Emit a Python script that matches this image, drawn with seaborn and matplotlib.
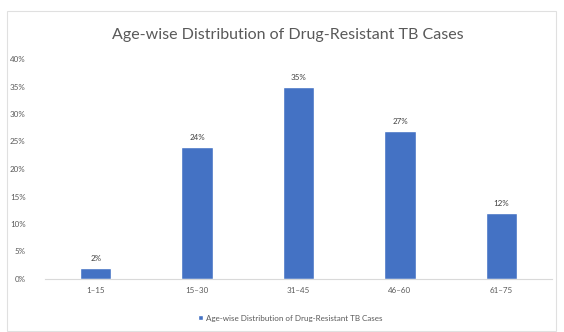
import matplotlib
matplotlib.use("Agg")
import matplotlib.pyplot as plt
import seaborn as sns
import pandas as pd
from matplotlib.patches import Rectangle
from matplotlib.ticker import FuncFormatter

categories = ["1–15", "15–30", "31–45", "46–60", "61–75"]
values = [2, 24, 35, 27, 12]
series_name = "Age-wise Distribution of Drug-Resistant TB Cases"
title = "Age-wise Distribution of Drug-Resistant TB Cases"

sns.set_theme(style="white")
plt.rcParams['font.family'] = ['Lato', 'DejaVu Sans']

df = pd.DataFrame({"Age": categories, "Pct": values, "Series": series_name})

fig = plt.figure(figsize=(5.64, 3.32), dpi=100)
fig.patch.set_facecolor("white")
ax = fig.add_axes([45/564, 53/332, (552-45)/564, (279-59)/332])

sns.barplot(data=df, x="Age", y="Pct", hue="Series", palette=["#4472C4"],
            saturation=1, width=0.31, ax=ax, legend=True)

ax.set_ylim(0, 40)
ax.set_yticks(range(0, 41, 5))
ax.yaxis.set_major_formatter(FuncFormatter(lambda v, p: f"{int(v)}%"))
ax.set_xlabel("")
ax.set_ylabel("")
for s in ["top", "right", "left"]:
    ax.spines[s].set_visible(False)
ax.spines["bottom"].set_color("#d9d9d9")
ax.spines["bottom"].set_linewidth(0.8)
ax.tick_params(axis="both", length=0, labelsize=5.8, colors="#595959", pad=6)
ax.tick_params(axis="y", pad=14)

for c in ax.containers:
    ax.bar_label(c, labels=[f"{v}%" for v in values], fontsize=5.8,
                 color="#404040", padding=4)

ax.legend_.remove()
h, l = ax.get_legend_handles_labels()
fig.legend(h, l, loc="center", bbox_to_anchor=(290/564, 1 - 318/332),
           frameon=False, fontsize=5.8, labelcolor="#595959",
           handlelength=0.6, handleheight=0.6, handletextpad=0.4)

fig.text(288/564, 1 - 35/332, title, ha="center", va="center",
         fontsize=11.5, color="#595959")

fig.patches.append(Rectangle((7/564, 1/332), (556-7)/564, (320)/332,
                             transform=fig.transFigure, fill=False,
                             edgecolor="#e0e0e0", linewidth=0.8))

fig.savefig("out.png", dpi=100, facecolor="white")
